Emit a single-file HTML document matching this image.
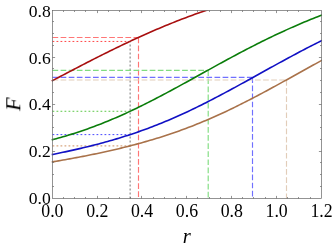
<!DOCTYPE html>
<html><head><meta charset="utf-8"><title>plot</title>
<style>html,body{margin:0;padding:0;background:#fff;}body{width:332px;height:249px;overflow:hidden;font-family:"Liberation Serif",serif;}svg{display:block}</style>
</head><body>
<svg width="332" height="249" viewBox="0 0 332 249">
<rect width="332" height="249" fill="#fff"/>
<clipPath id="c"><rect x="50.5" y="10.5" width="271.6" height="188.0"/></clipPath>
<g><path d="M130.12 198.5 V41.29" stroke="#7c7c7c" stroke-width="1.05" stroke-dasharray="1.9 2.1" fill="none"/><path d="M52.5 41.45 H130.12" stroke="#ff4646" stroke-width="1.0" stroke-dasharray="1.8 2.2" fill="none"/><path d="M52.5 111.28 H130.12" stroke="#5cc846" stroke-width="1.0" stroke-dasharray="1.8 2.2" fill="none"/><path d="M52.5 134.61 H130.12" stroke="#4646ff" stroke-width="1.0" stroke-dasharray="1.8 2.2" fill="none"/><path d="M52.5 145.84 H130.12" stroke="#d8a680" stroke-width="1.25" stroke-dasharray="1.8 2.2" fill="none"/><path d="M52.5 37.45 H138.5 M138.5 37.45 V198.5" stroke="#ff7676" stroke-width="1.15" stroke-dasharray="5.7 2.4" fill="none"/><path d="M52.5 70.3 H208.2 M208.2 70.3 V198.5" stroke="#80dc80" stroke-width="1.15" stroke-dasharray="5.7 2.4" fill="none"/><path d="M52.5 77.35 H252.5 M252.5 77.35 V198.5" stroke="#7070ff" stroke-width="1.15" stroke-dasharray="5.7 2.4" fill="none"/><path d="M52.5 80.0 H286.5 M286.5 80.0 V198.5" stroke="#e2cdb9" stroke-width="1.15" stroke-dasharray="5.7 2.4" fill="none"/></g>
<polyline clip-path="url(#c)" points="51.73,81.01 53.96,79.84 56.20,78.66 58.43,77.48 60.67,76.31 62.90,75.13 65.14,73.96 67.37,72.79 69.61,71.62 71.84,70.45 74.08,69.28 76.31,68.11 78.55,66.95 80.78,65.79 83.02,64.63 85.25,63.48 87.49,62.33 89.72,61.18 91.96,60.04 94.19,58.90 96.43,57.77 98.66,56.64 100.90,55.51 103.13,54.39 105.37,53.27 107.60,52.16 109.84,51.05 112.07,49.95 114.31,48.86 116.54,47.77 118.78,46.69 121.01,45.61 123.25,44.54 125.49,43.48 127.72,42.42 129.96,41.37 132.19,40.33 134.43,39.29 136.66,38.26 138.90,37.24 141.13,36.23 143.37,35.22 145.60,34.22 147.84,33.23 150.07,32.25 152.31,31.27 154.54,30.30 156.78,29.34 159.01,28.39 161.25,27.45 163.48,26.52 165.72,25.59 167.95,24.67 170.19,23.77 172.42,22.87 174.66,21.98 176.89,21.09 179.13,20.22 181.36,19.36 183.60,18.50 185.83,17.65 188.07,16.82 190.30,15.99 192.54,15.17 194.77,14.36 197.01,13.56 199.24,12.76 201.48,11.98 203.71,11.21 205.95,10.44 208.18,9.68 210.42,8.94 212.65,8.20 214.89,7.47 217.12,6.75 219.36,6.04 221.59,5.33 223.83,4.64 226.06,3.95 228.30,3.28 230.53,2.61 232.77,1.95 235.00,1.30 237.24,0.66 239.47,0.03 241.71,-0.60 243.94,-1.21 246.18,-1.82 248.41,-2.42 250.65,-3.01 252.89,-3.59 255.12,-4.16 257.36,-4.73 259.59,-5.29 261.83,-5.84 264.06,-6.38 266.30,-6.91 268.53,-7.44 270.77,-7.96 273.00,-8.47 275.24,-8.97 277.47,-9.47 279.71,-9.95 281.94,-10.43 284.18,-10.91 286.41,-11.37 288.65,-11.83 290.88,-12.28 293.12,-12.73 295.35,-13.17 297.59,-13.60 299.82,-14.02 302.06,-14.44 304.29,-14.85 306.53,-15.25 308.76,-15.65 311.00,-16.04 313.23,-16.43 315.47,-16.80 317.70,-17.18 319.94,-17.54 322.17,-17.90" fill="none" stroke="#a80f0f" stroke-width="1.6" stroke-linejoin="round"/>
<polyline clip-path="url(#c)" points="51.73,139.89 53.96,139.30 56.20,138.69 58.43,138.08 60.67,137.45 62.90,136.81 65.14,136.16 67.37,135.49 69.61,134.81 71.84,134.12 74.08,133.42 76.31,132.70 78.55,131.97 80.78,131.22 83.02,130.46 85.25,129.69 87.49,128.90 89.72,128.10 91.96,127.29 94.19,126.46 96.43,125.61 98.66,124.76 100.90,123.89 103.13,123.00 105.37,122.10 107.60,121.19 109.84,120.27 112.07,119.33 114.31,118.38 116.54,117.41 118.78,116.43 121.01,115.44 123.25,114.44 125.49,113.42 127.72,112.39 129.96,111.36 132.19,110.30 134.43,109.24 136.66,108.17 138.90,107.08 141.13,105.99 143.37,104.88 145.60,103.77 147.84,102.64 150.07,101.51 152.31,100.37 154.54,99.22 156.78,98.06 159.01,96.89 161.25,95.72 163.48,94.54 165.72,93.35 167.95,92.16 170.19,90.96 172.42,89.75 174.66,88.54 176.89,87.33 179.13,86.11 181.36,84.89 183.60,83.66 185.83,82.43 188.07,81.20 190.30,79.97 192.54,78.74 194.77,77.50 197.01,76.26 199.24,75.02 201.48,73.79 203.71,72.55 205.95,71.31 208.18,70.08 210.42,68.84 212.65,67.61 214.89,66.38 217.12,65.15 219.36,63.92 221.59,62.70 223.83,61.48 226.06,60.27 228.30,59.06 230.53,57.85 232.77,56.65 235.00,55.45 237.24,54.26 239.47,53.08 241.71,51.90 243.94,50.72 246.18,49.56 248.41,48.40 250.65,47.24 252.89,46.10 255.12,44.96 257.36,43.83 259.59,42.70 261.83,41.59 264.06,40.48 266.30,39.38 268.53,38.29 270.77,37.21 273.00,36.13 275.24,35.07 277.47,34.02 279.71,32.97 281.94,31.93 284.18,30.91 286.41,29.89 288.65,28.88 290.88,27.88 293.12,26.90 295.35,25.92 297.59,24.95 299.82,23.99 302.06,23.04 304.29,22.11 306.53,21.18 308.76,20.26 311.00,19.36 313.23,18.46 315.47,17.57 317.70,16.70 319.94,15.83 322.17,14.98" fill="none" stroke="#0a7d0a" stroke-width="1.6" stroke-linejoin="round"/>
<polyline clip-path="url(#c)" points="51.73,154.61 53.96,154.16 56.20,153.71 58.43,153.26 60.67,152.80 62.90,152.33 65.14,151.86 67.37,151.38 69.61,150.89 71.84,150.40 74.08,149.90 76.31,149.39 78.55,148.88 80.78,148.36 83.02,147.83 85.25,147.29 87.49,146.75 89.72,146.20 91.96,145.63 94.19,145.07 96.43,144.49 98.66,143.90 100.90,143.31 103.13,142.70 105.37,142.09 107.60,141.46 109.84,140.83 112.07,140.19 114.31,139.53 116.54,138.87 118.78,138.20 121.01,137.51 123.25,136.82 125.49,136.11 127.72,135.39 129.96,134.66 132.19,133.92 134.43,133.17 136.66,132.40 138.90,131.62 141.13,130.84 143.37,130.03 145.60,129.22 147.84,128.40 150.07,127.56 152.31,126.71 154.54,125.84 156.78,124.97 159.01,124.08 161.25,123.18 163.48,122.27 165.72,121.34 167.95,120.40 170.19,119.45 172.42,118.49 174.66,117.51 176.89,116.52 179.13,115.53 181.36,114.51 183.60,113.49 185.83,112.46 188.07,111.41 190.30,110.36 192.54,109.29 194.77,108.21 197.01,107.12 199.24,106.02 201.48,104.92 203.71,103.80 205.95,102.67 208.18,101.53 210.42,100.39 212.65,99.24 214.89,98.08 217.12,96.91 219.36,95.73 221.59,94.55 223.83,93.36 226.06,92.16 228.30,90.96 230.53,89.76 232.77,88.55 235.00,87.33 237.24,86.11 239.47,84.88 241.71,83.66 243.94,82.43 246.18,81.19 248.41,79.96 250.65,78.72 252.89,77.48 255.12,76.24 257.36,75.00 259.59,73.76 261.83,72.52 264.06,71.28 266.30,70.04 268.53,68.81 270.77,67.57 273.00,66.34 275.24,65.11 277.47,63.88 279.71,62.65 281.94,61.43 284.18,60.21 286.41,59.00 288.65,57.79 290.88,56.58 293.12,55.38 295.35,54.19 297.59,53.00 299.82,51.82 302.06,50.64 304.29,49.47 306.53,48.31 308.76,47.15 311.00,46.00 313.23,44.86 315.47,43.73 317.70,42.60 319.94,41.48 322.17,40.37" fill="none" stroke="#1111c4" stroke-width="1.6" stroke-linejoin="round"/>
<polyline clip-path="url(#c)" points="51.73,161.96 53.96,161.60 56.20,161.22 58.43,160.84 60.67,160.46 62.90,160.08 65.14,159.68 67.37,159.29 69.61,158.89 71.84,158.48 74.08,158.07 76.31,157.65 78.55,157.23 80.78,156.81 83.02,156.37 85.25,155.94 87.49,155.49 89.72,155.05 91.96,154.59 94.19,154.13 96.43,153.67 98.66,153.19 100.90,152.72 103.13,152.23 105.37,151.74 107.60,151.24 109.84,150.74 112.07,150.23 114.31,149.71 116.54,149.19 118.78,148.66 121.01,148.12 123.25,147.57 125.49,147.01 127.72,146.45 129.96,145.88 132.19,145.30 134.43,144.71 136.66,144.12 138.90,143.51 141.13,142.90 143.37,142.28 145.60,141.64 147.84,141.00 150.07,140.35 152.31,139.69 154.54,139.01 156.78,138.33 159.01,137.64 161.25,136.93 163.48,136.22 165.72,135.49 167.95,134.76 170.19,134.01 172.42,133.25 174.66,132.48 176.89,131.70 179.13,130.90 181.36,130.09 183.60,129.28 185.83,128.44 188.07,127.60 190.30,126.75 192.54,125.88 194.77,125.00 197.01,124.11 199.24,123.20 201.48,122.28 203.71,121.36 205.95,120.41 208.18,119.46 210.42,118.49 212.65,117.52 214.89,116.53 217.12,115.53 219.36,114.51 221.59,113.49 223.83,112.45 226.06,111.41 228.30,110.35 230.53,109.28 232.77,108.20 235.00,107.11 237.24,106.01 239.47,104.90 241.71,103.78 243.94,102.65 246.18,101.52 248.41,100.37 250.65,99.22 252.89,98.06 255.12,96.89 257.36,95.71 259.59,94.53 261.83,93.34 264.06,92.14 266.30,90.94 268.53,89.73 270.77,88.52 273.00,87.31 275.24,86.08 277.47,84.86 279.71,83.63 281.94,82.40 284.18,81.17 286.41,79.93 288.65,78.69 290.88,77.45 293.12,76.21 295.35,74.97 297.59,73.73 299.82,72.49 302.06,71.25 304.29,70.01 306.53,68.77 308.76,67.54 311.00,66.30 313.23,65.07 315.47,63.84 317.70,62.62 319.94,61.39 322.17,60.17" fill="none" stroke="#a9724a" stroke-width="1.6" stroke-linejoin="round"/>
<rect x="52.5" y="10.5" width="269.0" height="188.0" fill="none" stroke="#666" stroke-width="0.7"/>
<path d="M63.50 198.5 v-1.5 M63.50 10.5 v1.5 M74.50 198.5 v-1.5 M74.50 10.5 v1.5 M85.50 198.5 v-1.5 M85.50 10.5 v1.5 M97.50 198.5 v-2.6 M97.50 10.5 v2.6 M108.50 198.5 v-1.5 M108.50 10.5 v1.5 M119.50 198.5 v-1.5 M119.50 10.5 v1.5 M130.50 198.5 v-1.5 M130.50 10.5 v1.5 M141.50 198.5 v-2.6 M141.50 10.5 v2.6 M153.50 198.5 v-1.5 M153.50 10.5 v1.5 M164.50 198.5 v-1.5 M164.50 10.5 v1.5 M175.50 198.5 v-1.5 M175.50 10.5 v1.5 M186.50 198.5 v-2.6 M186.50 10.5 v2.6 M197.50 198.5 v-1.5 M197.50 10.5 v1.5 M209.50 198.5 v-1.5 M209.50 10.5 v1.5 M220.50 198.5 v-1.5 M220.50 10.5 v1.5 M231.50 198.5 v-2.6 M231.50 10.5 v2.6 M242.50 198.5 v-1.5 M242.50 10.5 v1.5 M253.50 198.5 v-1.5 M253.50 10.5 v1.5 M265.50 198.5 v-1.5 M265.50 10.5 v1.5 M276.50 198.5 v-2.6 M276.50 10.5 v2.6 M287.50 198.5 v-1.5 M287.50 10.5 v1.5 M298.50 198.5 v-1.5 M298.50 10.5 v1.5 M310.50 198.5 v-1.5 M310.50 10.5 v1.5 M52.5 186.50 h1.5 M321.5 186.50 h-1.5 M52.5 174.50 h1.5 M321.5 174.50 h-1.5 M52.5 162.50 h1.5 M321.5 162.50 h-1.5 M52.5 151.50 h2.6 M321.5 151.50 h-2.6 M52.5 139.50 h1.5 M321.5 139.50 h-1.5 M52.5 127.50 h1.5 M321.5 127.50 h-1.5 M52.5 115.50 h1.5 M321.5 115.50 h-1.5 M52.5 104.50 h2.6 M321.5 104.50 h-2.6 M52.5 92.50 h1.5 M321.5 92.50 h-1.5 M52.5 80.50 h1.5 M321.5 80.50 h-1.5 M52.5 68.50 h1.5 M321.5 68.50 h-1.5 M52.5 57.50 h2.6 M321.5 57.50 h-2.6 M52.5 45.50 h1.5 M321.5 45.50 h-1.5 M52.5 33.50 h1.5 M321.5 33.50 h-1.5 M52.5 21.50 h1.5 M321.5 21.50 h-1.5" stroke="#666" stroke-width="0.7" fill="none"/>
<g font-family="Liberation Serif, serif" font-size="17.8" fill="#000" style="filter:grayscale(1)">
<text x="52.40" y="217" text-anchor="middle">0.0</text>
<text x="97.25" y="217" text-anchor="middle">0.2</text>
<text x="142.10" y="217" text-anchor="middle">0.4</text>
<text x="186.95" y="217" text-anchor="middle">0.6</text>
<text x="231.80" y="217" text-anchor="middle">0.8</text>
<text x="276.65" y="217" text-anchor="middle">1.0</text>
<text x="321.50" y="217" text-anchor="middle">1.2</text>
<text x="50.7" y="204.10" text-anchor="end" font-size="17.6">0.0</text>
<text x="50.7" y="157.24" text-anchor="end" font-size="17.6">0.2</text>
<text x="50.7" y="110.38" text-anchor="end" font-size="17.6">0.4</text>
<text x="50.7" y="63.52" text-anchor="end" font-size="17.6">0.6</text>
<text x="50.7" y="16.66" text-anchor="end" font-size="17.6">0.8</text>
</g>
<g font-family="Liberation Serif, serif" font-size="22" font-style="italic" fill="#000" style="filter:grayscale(1)">
<text x="186.8" y="243.4" text-anchor="middle" font-size="20.6">r</text>
<text transform="translate(20.3,104.2) rotate(-90)" text-anchor="middle">F</text>
</g>
</svg>
</body></html>
